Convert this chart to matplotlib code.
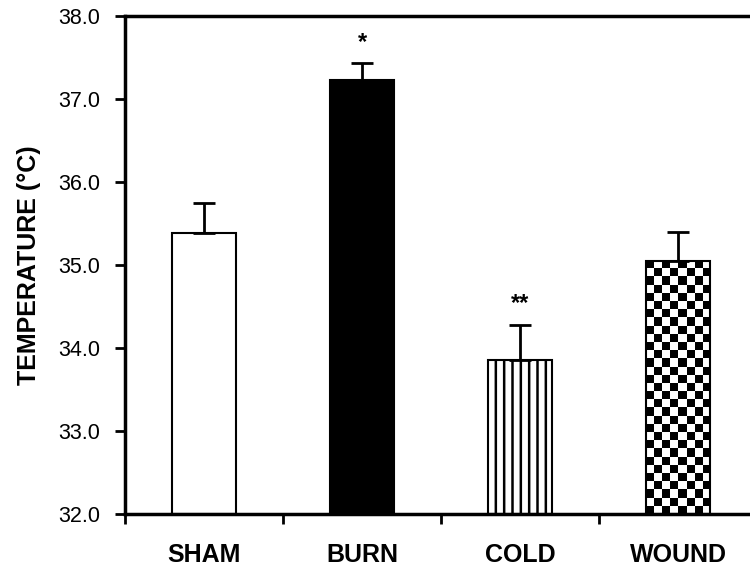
import matplotlib.pyplot as plt
import numpy as np

# values
groups = ['SHAM', 'BURN', 'COLD', 'WOUND']
temp_mean = [35.39, 37.23, 33.86, 35.05]
temp_sem = [0.36, 0.20, 0.42, 0.35]
signif = ['', '*', '**', '']

plt.rcParams['font.family'] = ['Liberation Sans', 'DejaVu Sans']
plt.rcParams['hatch.linewidth'] = 1.8

fig = plt.figure(figsize=(7.5, 5.69), dpi=100)
ax = fig.add_axes([0.1667, 0.0967, 0.8426, 0.8752])

x = np.arange(len(groups))
bars = ax.bar(x, np.array(temp_mean) - 32, bottom=32, width=0.41,
              color='white', edgecolor='black', linewidth=1.5, zorder=2)
bars[1].set_facecolor('black')
bars[2].set_hatch('||')

ax.errorbar(x, temp_mean, yerr=[np.zeros(len(x)), temp_sem], fmt='none',
            ecolor='black', elinewidth=2, capsize=8, capthick=2, zorder=3)

ax.set_xlim(-0.5, 3.5)
ax.set_ylim(32, 38)

# checkerboard fill for WOUND, clipped to its bar
wb = bars[3]
p0 = ax.transData.transform((wb.get_x(), wb.get_y()))
p1 = ax.transData.transform((wb.get_x() + wb.get_width(), wb.get_y() + wb.get_height()))
ncol = 8
nrow = int(round(ncol * (p1[1] - p0[1]) / (p1[0] - p0[0])))
board = (np.add.outer(np.arange(nrow), np.arange(ncol)) % 2).astype(float)
im = ax.imshow(board, cmap='gray', interpolation='nearest', aspect='auto',
               extent=(wb.get_x(), wb.get_x() + wb.get_width(), wb.get_y(), wb.get_y() + wb.get_height()),
               origin='lower', zorder=2)
im.set_clip_path(wb)
wb.set_facecolor('none')
wb.set_zorder(2.5)
ax.set_xlim(-0.5, 3.5)
ax.set_ylim(32, 38)

for xi, m, e, s in zip(x, temp_mean, temp_sem, signif):
    if s:
        ax.annotate(s, (xi, m + e), xytext=(0, 7), textcoords='offset points',
                    ha='center', va='bottom', fontsize=17, fontweight='bold')

ax.set_yticks(np.arange(32, 38.1, 1.0))
ax.set_yticklabels(['%.1f' % v for v in np.arange(32, 38.1, 1.0)], fontsize=15.5)
ax.set_xticks(x)
ax.set_xticklabels(groups, fontsize=18, fontweight='bold')
ax.set_xticks(np.arange(-0.5, 3.6, 1.0), minor=True)
ax.tick_params(axis='x', which='major', length=0, pad=21)
ax.tick_params(axis='x', which='minor', length=7, width=2, direction='out')
ax.tick_params(axis='y', length=7, width=2, direction='out', pad=11)

for sp in ax.spines.values():
    sp.set_linewidth(2.5)

ax.set_ylabel('TEMPERATURE (°C)', fontsize=18, fontweight='bold', labelpad=12)

fig.savefig('out.png', dpi=100)
